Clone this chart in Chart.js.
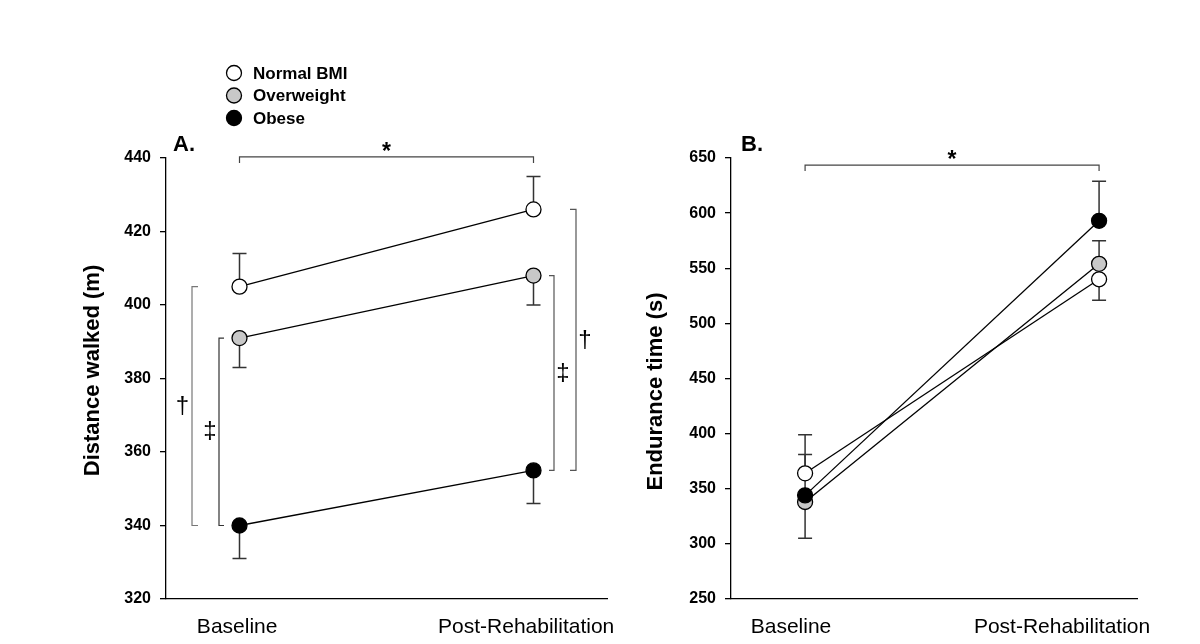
<!DOCTYPE html>
<html>
<head>
<meta charset="utf-8">
<script src="https://cdn.jsdelivr.net/npm/chart.js@4.4.0/dist/chart.umd.min.js"></script>
<style>
  body { margin: 0; background: #fff; }
  #wrap { position: relative; width: 1200px; height: 644px; background: #fff; }
  canvas { position: absolute; top: 0; }
</style>
</head>
<body>
<div id="wrap">
  <canvas id="chartA" width="640" height="644" style="left:0"></canvas>
  <canvas id="chartB" width="560" height="644" style="left:640px"></canvas>
</div>
<script>
// data
var phases = ['Baseline', 'Post-Rehabilitation'];
var groups = ['Normal BMI', 'Overweight', 'Obese'];

// A. distance walked (m)
var distNormal = [405, 426];
var distOver = [391, 408];
var distObese = [340, 355];
// one-sided error bars: + goes up, - goes down
var distErrNormal = [9, 9];
var distErrOver = [-8, -8];
var distErrObese = [-9, -9];

// B. endurance time (s)
var endNormal = [364, 540];
var endOver = [338, 554];
var endObese = [344, 593];
var endErrNormal = [17, -19];
var endErrOver = [-33, 21];
var endErrObese = [55, 36];

var groupFill = ['#ffffff', '#c8c8c8', '#000000'];
var FONT = '"Liberation Sans", Arial, Helvetica, sans-serif';

// draws error bars, brackets, titles, legend
var overlay = {
    id: 'overlay',
    beforeDatasetsDraw: function (chart, args, opts) {
        var ctx = chart.ctx, y = chart.scales.y;
        ctx.save();
        ctx.strokeStyle = '#333';
        ctx.lineWidth = 1.5;
        opts.errors.forEach(function (errs, d) {
            var meta = chart.getDatasetMeta(d);
            var vals = chart.data.datasets[d].data;
            errs.forEach(function (e, i) {
                var px = meta.data[i].x;
                var py = y.getPixelForValue(vals[i].y);
                var ey = y.getPixelForValue(vals[i].y + e);
                ctx.beginPath();
                ctx.moveTo(px, py);
                ctx.lineTo(px, ey);
                ctx.moveTo(px - 7, ey);
                ctx.lineTo(px + 7, ey);
                ctx.stroke();
            });
        });
        ctx.restore();
    },
    afterDraw: function (chart, args, opts) {
        var ctx = chart.ctx, x = chart.scales.x, y = chart.scales.y;
        var area = chart.chartArea;
        ctx.save();

        // top bracket with star
        var tb = opts.topBracket;
        var x0 = x.getPixelForValue(tb.from), x1 = x.getPixelForValue(tb.to);
        var ty = y.getPixelForValue(tb.y);
        ctx.strokeStyle = '#444';
        ctx.lineWidth = 1.2;
        ctx.beginPath();
        ctx.moveTo(x0, ty + 6); ctx.lineTo(x0, ty); ctx.lineTo(x1, ty); ctx.lineTo(x1, ty + 6);
        ctx.stroke();
        ctx.fillStyle = '#000';
        ctx.font = 'bold 23px ' + FONT;
        ctx.textAlign = 'center';
        ctx.textBaseline = 'middle';
        ctx.fillText('*', (x0 + x1) / 2, ty - 4);

        // side brackets
        (opts.sideBrackets || []).forEach(function (b) {
            var bx = x.getPixelForValue(b.at) + b.dx;
            var y0 = y.getPixelForValue(b.from), y1 = y.getPixelForValue(b.to);
            ctx.strokeStyle = b.color;
            ctx.lineWidth = 1.2;
            ctx.beginPath();
            ctx.moveTo(bx + b.tick, y0); ctx.lineTo(bx, y0); ctx.lineTo(bx, y1); ctx.lineTo(bx + b.tick, y1);
            ctx.stroke();
            ctx.fillStyle = '#000';
            ctx.font = '24px ' + FONT;
            ctx.fillText(b.label, bx + b.ldx, (y0 + y1) / 2);
        });

        // panel letter
        ctx.font = 'bold 22px ' + FONT;
        ctx.textAlign = 'left';
        ctx.fillText(opts.letter, area.left + opts.letterDx, area.top - 13);

        // y axis title
        ctx.save();
        ctx.translate(area.left + opts.titleDx, (area.top + area.bottom) / 2 + opts.titleDy);
        ctx.rotate(-Math.PI / 2);
        ctx.textAlign = 'center';
        ctx.font = 'bold 22px ' + FONT;
        ctx.fillText(opts.yTitle, 0, 0);
        ctx.restore();

        // legend
        if (opts.legend) {
            groups.forEach(function (g, k) {
                var ly = 73 + k * 22.5;
                ctx.beginPath();
                ctx.arc(234, ly, 7.5, 0, Math.PI * 2);
                ctx.fillStyle = groupFill[k];
                ctx.fill();
                ctx.strokeStyle = '#000';
                ctx.lineWidth = 1.3;
                ctx.stroke();
                ctx.fillStyle = '#000';
                ctx.font = 'bold 17px ' + FONT;
                ctx.textAlign = 'left';
                ctx.fillText(g, 253, ly + 1);
            });
        }
        ctx.restore();
    }
};

function makeDatasets(series) {
    return series.map(function (vals, k) {
        return {
            label: groups[k],
            data: vals.map(function (v, i) { return { x: i, y: v }; }),
            borderColor: '#000',
            borderWidth: 1.3,
            pointRadius: 7.5,
            pointHoverRadius: 7.5,
            pointBackgroundColor: groupFill[k],
            pointBorderColor: '#000',
            pointBorderWidth: 1.3,
            order: 3 - k,
            clip: false
        };
    });
}

function makeChart(id, series, opt) {
    return new Chart(document.getElementById(id), {
        type: 'line',
        data: { datasets: makeDatasets(series) },
        plugins: [overlay],
        options: {
            responsive: false,
            animation: false,
            events: [],
            layout: { padding: { left: 0, top: 158, right: opt.padRight, bottom: 0 } },
            plugins: {
                legend: { display: false },
                tooltip: { enabled: false },
                overlay: opt.overlay
            },
            scales: {
                x: {
                    type: 'linear',
                    min: opt.xMin,
                    max: opt.xMax,
                    afterBuildTicks: function (s) {
                        s.ticks = opt.labelAt.map(function (v) { return { value: v }; });
                    },
                    afterFit: function (s) { s.height = 45; },
                    ticks: {
                        callback: function (v, i) { return phases[i]; },
                        font: { family: FONT, size: 21 },
                        color: '#000',
                        padding: 8,
                        autoSkip: false,
                        maxRotation: 0
                    },
                    grid: { display: false },
                    border: { color: '#000', width: 1.3 }
                },
                y: {
                    min: opt.yMin,
                    max: opt.yMax,
                    afterFit: function (s) { s.width = opt.axisX; },
                    ticks: {
                        stepSize: opt.yStep,
                        font: { family: FONT, size: 16, weight: 'bold' },
                        color: '#000',
                        padding: 9
                    },
                    grid: { drawOnChartArea: false, tickLength: 6, color: '#000', lineWidth: 1.3 },
                    border: { color: '#000', width: 1.3 }
                }
            }
        }
    });
}

var chartA = makeChart('chartA', [distNormal, distOver, distObese], {
    padRight: 33, axisX: 166, xMin: -0.25, xMax: 1.25, labelAt: [-0.008, 0.975],
    yMin: 320, yMax: 440, yStep: 20,
    overlay: {
        errors: [distErrNormal, distErrOver, distErrObese],
        topBracket: { from: 0, to: 1, y: 440.3 },
        sideBrackets: [
            { at: 0, dx: -47.5, tick: 6, ldx: -9.5, from: distNormal[0], to: distObese[0], label: '\u2020', color: '#777' },
            { at: 0, dx: -20.5, tick: 5, ldx: -9, from: distOver[0], to: distObese[0], label: '\u2021', color: '#333' },
            { at: 1, dx: 20.5, tick: -5, ldx: 9, from: distOver[1], to: distObese[1], label: '\u2021', color: '#555' },
            { at: 1, dx: 42.5, tick: -6, ldx: 9, from: distNormal[1], to: distObese[1], label: '\u2020', color: '#555' }
        ],
        letter: 'A.', letterDx: 7,
        yTitle: 'Distance walked (m)', titleDx: -73, titleDy: -8,
        legend: true
    }
});

var chartB = makeChart('chartB', [endNormal, endOver, endObese], {
    padRight: 63, axisX: 91, xMin: -0.252, xMax: 1.129, labelAt: [-0.048, 0.874],
    yMin: 250, yMax: 650, yStep: 50,
    overlay: {
        errors: [endErrNormal, endErrOver, endErrObese],
        topBracket: { from: 0, to: 1, y: 643.6 },
        sideBrackets: [],
        letter: 'B.', letterDx: 10,
        yTitle: 'Endurance time (s)', titleDx: -75, titleDy: 13,
        legend: false
    }
});
</script>
</body>
</html>
